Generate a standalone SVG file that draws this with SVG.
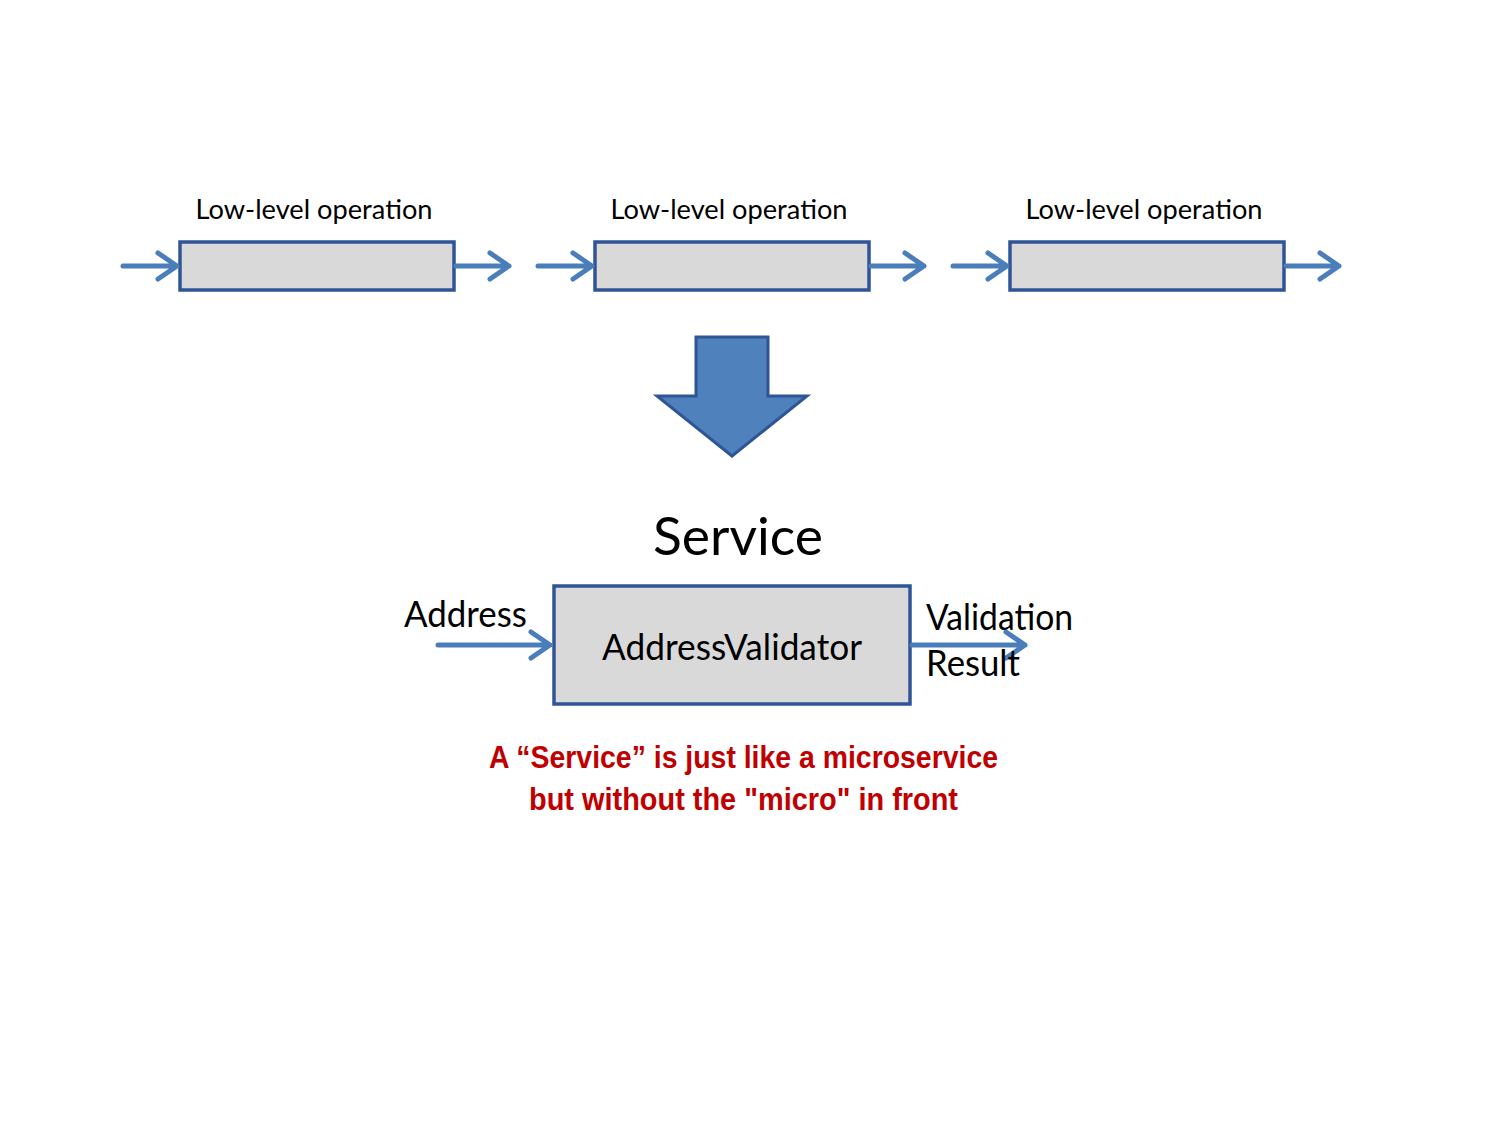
<svg xmlns="http://www.w3.org/2000/svg" width="1503" height="1126" viewBox="0 0 1503 1126">
<style>
.op{fill:#d9d9d9;stroke:#2f5597;stroke-width:3.5}
.ln{fill:none;stroke:#4a7ebb;stroke-width:5;stroke-linecap:round;stroke-linejoin:round}
.lbl{font-family:Lato,"Liberation Sans",sans-serif;fill:#000}
.red{font-family:"Liberation Sans Narrow","Liberation Sans",sans-serif;font-weight:bold;fill:#c00000;font-size:32px}
</style>
<rect width="1503" height="1126" fill="#fff"/>
<g id="op1">
<text class="lbl" x="314" y="219" font-size="26" text-anchor="middle" textLength="237" lengthAdjust="spacingAndGlyphs">Low-level operation</text>
<rect class="op" x="180" y="242" width="274" height="48"/>
</g>
<g id="op2">
<text class="lbl" x="729" y="219" font-size="26" text-anchor="middle" textLength="237" lengthAdjust="spacingAndGlyphs">Low-level operation</text>
<rect class="op" x="595" y="242" width="274" height="48"/>
</g>
<g id="op3">
<text class="lbl" x="1144" y="219" font-size="26" text-anchor="middle" textLength="237" lengthAdjust="spacingAndGlyphs">Low-level operation</text>
<rect class="op" x="1010" y="242" width="274" height="48"/>
</g>
<g id="bigArrow">
<path d="M696,337 H768 V396 H807 L732,456 L657,396 H696 Z" fill="#4f81bd" stroke="#2f5597" stroke-width="3" stroke-linejoin="miter"/>
</g>
<g id="service">
<text class="lbl" x="738" y="555" font-size="52" text-anchor="middle" textLength="170" lengthAdjust="spacingAndGlyphs">Service</text>
<rect class="op" x="554" y="586" width="356" height="118"/>
<text class="lbl" x="732" y="660" font-size="36" text-anchor="middle" textLength="260" lengthAdjust="spacingAndGlyphs">AddressValidator</text>
</g>
<g id="connectors">
<path class="ln" d="M123,266 H177 M158,253 L177,266 L158,279"/>
<path class="ln" d="M456,266 H509 M490,253 L509,266 L490,279"/>
<path class="ln" d="M538,266 H592 M573,253 L592,266 L573,279"/>
<path class="ln" d="M871,266 H924 M905,253 L924,266 L905,279"/>
<path class="ln" d="M953,266 H1007 M988,253 L1007,266 L988,279"/>
<path class="ln" d="M1286,266 H1339 M1320,253 L1339,266 L1320,279"/>
<path class="ln" d="M438,645 H550 M531,632 L550,645 L531,658"/>
<path class="ln" d="M912,645 H1025 M1006,632 L1025,645 L1006,658"/>
</g>
<g id="labels">
<text class="lbl" x="404" y="627" font-size="36" textLength="123" lengthAdjust="spacingAndGlyphs">Address</text>
<text class="lbl" x="926" y="630" font-size="36" textLength="147" lengthAdjust="spacingAndGlyphs">Validation</text>
<text class="lbl" x="926" y="676" font-size="36" textLength="94" lengthAdjust="spacingAndGlyphs">Result</text>
</g>
<g id="note">
<text class="red" x="489" y="768" textLength="509" lengthAdjust="spacingAndGlyphs">A “Service” is just like a microservice</text>
<text class="red" x="529" y="810" textLength="429" lengthAdjust="spacingAndGlyphs">but without the "micro" in front</text>
</g>
</svg>
